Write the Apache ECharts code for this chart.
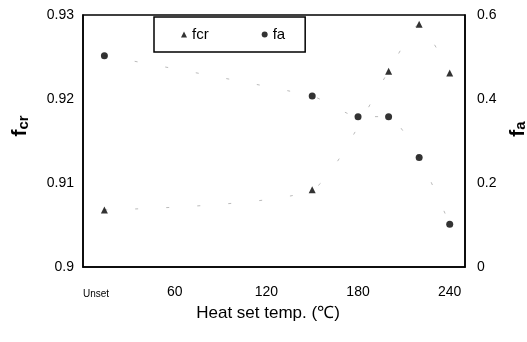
<!DOCTYPE html>
<html><head><meta charset="utf-8">
<script src="https://cdn.jsdelivr.net/npm/echarts@6/dist/echarts.min.js"></script>
<style>html,body{margin:0;padding:0;background:#fff}#c{width:527px;height:342px}</style>
</head><body><div id="c"></div>
<script>
// Heat set temperature (℃); "Unset" samples plotted just right of the axis origin
const fcrTemps = [14, 150, 200, 220, 240];
const fcrValues = [0.9068, 0.9092, 0.9233, 0.9289, 0.9231];
const faTemps = [14, 150, 180, 200, 220, 240];
const faValues = [0.503, 0.407, 0.358, 0.358, 0.261, 0.102];
const xTickValues = [0, 60, 120, 180, 240];
const xTickLabels = ['Unset', '60', '120', '180', '240'];
const leftTickLabels = ['0.9', '0.91', '0.92', '0.93'];
const rightTickLabels = ['0', '0.2', '0.4', '0.6'];

const fcrData = fcrTemps.map((t, i) => [t, fcrValues[i]]);
const faData = faTemps.map((t, i) => [t, faValues[i]]);

const font = 'Liberation Sans, Arial, sans-serif';
const chart = echarts.init(document.getElementById('c'), null, {renderer: 'canvas'});
chart.setOption({
  animation: false,
  backgroundColor: '#fff',
  textStyle: {fontFamily: font, color: '#000'},
  grid: {left: 83, right: 62, top: 15, bottom: 75, outerBoundsMode: 'none', containLabel: false,
    show: true, borderColor: '#000', borderWidth: 1.5, backgroundColor: 'transparent'},
  legend: {
    data: [{name: 'fcr', icon: 'triangle'}, {name: 'fa', icon: 'circle'}],
    left: 154, top: 17,
    padding: [10, 20, 10, 27],
    itemWidth: 6, itemHeight: 6, itemGap: 53,
    borderColor: '#000', borderWidth: 1.5,
    textStyle: {fontSize: 15, color: '#000', fontFamily: font}
  },
  xAxis: {
    type: 'value', min: 0, max: 250, interval: 60,
    axisLine: {show: true, lineStyle: {color: '#000', width: 1.5}},
    axisTick: {show: false}, splitLine: {show: false},
    axisLabel: {
      margin: 18, fontSize: 14, color: '#000', alignMinLabel: 'left', showMaxLabel: false,
      formatter: v => {
        const i = xTickValues.indexOf(v);
        if (i === 0) return '{u|' + xTickLabels[0] + '}';
        return i >= 0 ? xTickLabels[i] : '';
      },
      rich: {u: {fontSize: 10, fontFamily: font, color: '#000', padding: [4, 0, 0, 0]}}
    },
    name: 'Heat set temp. (℃)', nameLocation: 'middle', nameGap: 38,
    nameTextStyle: {fontSize: 17, color: '#000', fontFamily: font, padding: [0, 12, 0, 0]}
  },
  yAxis: [{
    type: 'value', min: 0.9, max: 0.93, interval: 0.01, position: 'left',
    axisLine: {show: true, lineStyle: {color: '#000', width: 1.5}},
    axisTick: {show: false}, splitLine: {show: false},
    axisLabel: {margin: 9, fontSize: 14, color: '#000',
      formatter: v => leftTickLabels[Math.round((v - 0.9) / 0.01)]},
    name: '{f|f}{s|cr}', nameLocation: 'middle', nameRotate: 90, nameGap: 52,
    nameTextStyle: {padding: [0, 0, 0, 30], rich: {
      f: {fontSize: 21, fontWeight: 'bold', fontFamily: font, color: '#000', verticalAlign: 'bottom'},
      s: {fontSize: 15, fontWeight: 'bold', fontFamily: font, color: '#000', verticalAlign: 'bottom'}
    }}
  }, {
    type: 'value', min: 0, max: 0.6, interval: 0.2, position: 'right',
    axisLine: {show: true, lineStyle: {color: '#000', width: 1.5}},
    axisTick: {show: false}, splitLine: {show: false},
    axisLabel: {margin: 12, fontSize: 14, color: '#000',
      formatter: v => rightTickLabels[Math.round(v / 0.2)]},
    name: '{f|f}{s|a}', nameLocation: 'middle', nameRotate: 90, nameGap: 42,
    nameTextStyle: {padding: [0, 0, 0, 24], rich: {
      f: {fontSize: 21, fontWeight: 'bold', fontFamily: font, color: '#000', verticalAlign: 'bottom'},
      s: {fontSize: 15, fontWeight: 'bold', fontFamily: font, color: '#000', verticalAlign: 'bottom'}
    }}
  }],
  series: [
    {name: 'fcr', type: 'scatter', yAxisIndex: 0, data: fcrData, symbol: 'triangle', symbolSize: 7,
     itemStyle: {color: '#000'}, z: 5},
    {name: 'fa', type: 'scatter', yAxisIndex: 1, data: faData, symbol: 'circle', symbolSize: 7,
     itemStyle: {color: '#000'}, z: 5},
    {name: 'fcr trend', type: 'line', yAxisIndex: 0, data: fcrData, smooth: 0.2, symbol: 'none',
     lineStyle: {color: '#bbb', width: 1, type: [3, 28]}, silent: true, z: 2},
    {name: 'fa trend', type: 'line', yAxisIndex: 1, data: faData, smooth: 0.2, symbol: 'none',
     lineStyle: {color: '#bbb', width: 1, type: [3, 28]}, silent: true, z: 2}
  ]
});
</script></body></html>
